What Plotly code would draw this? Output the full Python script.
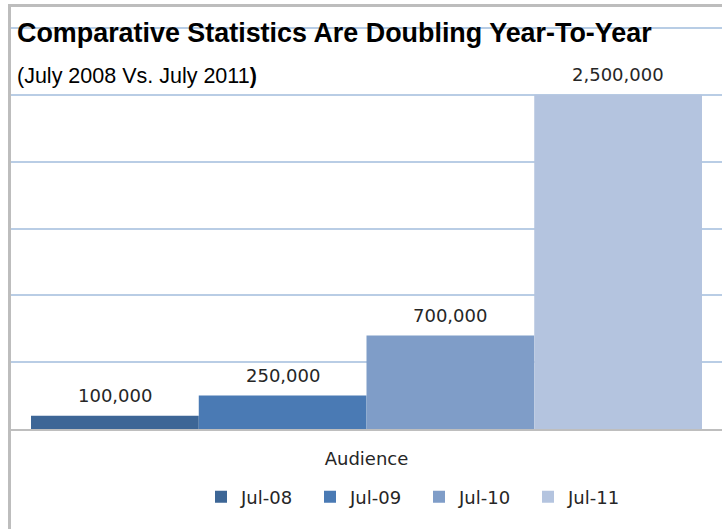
import plotly.graph_objects as go

categories = ["Audience"]
series_names = ["Jul-08", "Jul-09", "Jul-10", "Jul-11"]
series_values = [[100000], [250000], [700000], [2500000]]
series_colors = ["#3D6696", "#4A7AB4", "#7F9DC8", "#B4C4DF"]

title_text = "Comparative Statistics Are Doubling Year-To-Year"
subtitle_text = "(July 2008 Vs. July 2011<b>)</b>"

H = 529
W = 722
mt, mb, ml, mr = 22, 100, 11, 0
ph = H - mt - mb
pw = W - ml - mr
bargap = 0.0563
axis_top_value = 3000000
axis_top_pixel = 28
ymax = axis_top_value * (H - mb - mt) / (H - mb - axis_top_pixel)
grid_color = "#B9CDE5"


def py(pix):
    return (H - mb - pix) / ph


def px(pix):
    return (pix - ml) / pw


fig = go.Figure()
for name, vals, col in zip(series_names, series_values, series_colors):
    fig.add_trace(go.Bar(
        x=categories, y=vals, name=name,
        marker=dict(color=col, line=dict(width=0)),
        cliponaxis=False,
    ))

# data labels, placed over each bar of the group
n = len(series_names)
barw = pw * (1 - bargap) / n
annotations = []
for i, vals in enumerate(series_values):
    for cat, v in zip(categories, vals):
        annotations.append(dict(
            x=cat, y=v, xref="x", yref="y", text=f"{v:,}",
            showarrow=False, xanchor="center", yanchor="middle",
            xshift=(i - (n - 1) / 2) * barw, yshift=20,
            font=dict(family="DejaVu Sans", size=18, color="#262626"),
        ))

annotations += [
    dict(text="<b>" + title_text + "</b>", xref="paper", yref="paper",
         x=px(15), y=py(33), xanchor="left", yanchor="middle",
         showarrow=False,
         font=dict(family="Liberation Sans", size=26.9, color="black")),
    dict(text=subtitle_text, xref="paper", yref="paper",
         x=px(15), y=py(76), xanchor="left", yanchor="middle",
         showarrow=False,
         font=dict(family="Liberation Sans", size=21.5, color="black")),
]

fig.update_layout(
    width=W, height=H,
    margin=dict(l=ml, r=mr, t=mt, b=mb),
    paper_bgcolor="white", plot_bgcolor="white",
    barmode="group", bargap=bargap, bargroupgap=0,
    showlegend=True,
    legend=dict(
        orientation="h", x=px(201), xanchor="left",
        y=py(497), yanchor="middle",
        font=dict(family="DejaVu Sans", size=18, color="#262626"),
        entrywidth=64, entrywidthmode="pixels",
        itemclick=False, itemdoubleclick=False,
    ),
    xaxis=dict(
        showline=True, linecolor="#BEBEBE", linewidth=2,
        showgrid=False, ticks="", ticklabelstandoff=12,
        tickfont=dict(family="DejaVu Sans", size=18, color="#262626"),
        fixedrange=True,
    ),
    yaxis=dict(
        range=[0, ymax], tick0=0, dtick=500000, showticklabels=False,
        showgrid=True, gridcolor=grid_color, gridwidth=1.5,
        zeroline=False, showline=False, fixedrange=True,
    ),
    annotations=annotations,
    shapes=[
        dict(type="line", xref="paper", yref="paper",
             x0=px(9.5), x1=px(9.5),
             y0=py(4), y1=py(540), line=dict(color="#BDBDBD", width=3)),
        dict(type="line", xref="paper", yref="paper",
             x0=px(8), x1=1.01,
             y0=py(5.5), y1=py(5.5), line=dict(color="#BDBDBD", width=3)),
        dict(type="line", xref="paper", yref="paper", layer="above",
             x0=0, x1=1, y0=py(axis_top_pixel), y1=py(axis_top_pixel),
             line=dict(color=grid_color, width=1.5)),
    ],
)

fig.write_html("out.html", post_script="document.body.style.margin='0';",
               config={"displayModeBar": False})
